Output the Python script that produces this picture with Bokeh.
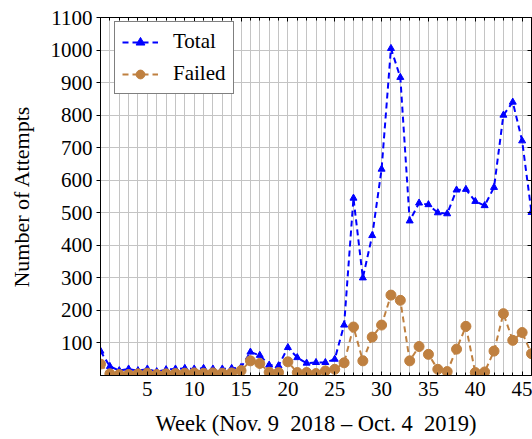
from bokeh.plotting import figure
from bokeh.models import FixedTicker, LinearAxis, Legend, LegendItem, Range1d
from bokeh.embed import file_html
from bokeh.resources import INLINE

# ---- data ----
weeks = list(range(47))
total = [75, 28, 15, 20, 15, 20, 12, 18, 20, 22, 20, 22, 20, 20, 22, 25,
         72, 62, 32, 30, 86, 55, 38, 40, 40, 50,
         155, 545, 300, 430, 634, 1005, 916, 475, 530, 525,
         500, 497, 570, 572, 535, 522, 578, 800, 840, 721, 501]
failed = [35, 5, 3, 3, 5, 7, 3, 5, 6, 7, 8, 7, 8, 7, 8, 15,
          45, 37, 10, 9, 42, 9, 9, 6, 14, 19,
          39, 149, 45, 118, 155, 247, 231, 45, 89, 65,
          19, 12, 81, 151, 9, 11, 75, 190, 108, 132, 67]
x_major = [5, 10, 15, 20, 25, 30, 35, 40, 45]
y_major = [100, 200, 300, 400, 500, 600, 700, 800, 900, 1000, 1100]
series_names = ["Total", "Failed"]
x_title = "Week (Nov. 9\u20022018 \u2013 Oct. 4\u20022019)"
y_title = "Number of Attempts"

FONT = "Liberation Serif"
FS = "21px"
BLUE = "#0000ff"
BROWN = "#bf8040"
GRID = "#c4c4c4"

p = figure(width=532, height=439,
           x_range=Range1d(0, 46), y_range=Range1d(0, 1100),
           output_backend="svg", toolbar_location=None,
           min_border_left=100, min_border_right=1,
           min_border_top=17, min_border_bottom=64)

p.outline_line_color = "black"
p.outline_line_width = 1
p.background_fill_color = "white"

xt = FixedTicker(ticks=x_major, minor_ticks=weeks)
yt = FixedTicker(ticks=y_major, minor_ticks=[])

p.xaxis.ticker = xt
p.yaxis.ticker = yt
p.xgrid.ticker = xt
p.ygrid.ticker = yt
p.xgrid.grid_line_color = GRID
p.xgrid.minor_grid_line_color = GRID
p.ygrid.grid_line_color = GRID
p.xgrid.grid_line_width = 1
p.ygrid.grid_line_width = 1

for ax in (p.xaxis, p.yaxis):
    ax.axis_line_color = "black"
    ax.major_tick_line_color = "black"
    ax.minor_tick_line_color = "black"
    ax.major_label_text_font = FONT
    ax.major_label_text_font_size = FS
    ax.major_label_text_color = "black"
    ax.axis_label_text_font = FONT
    ax.axis_label_text_font_style = "normal"
    ax.axis_label_text_color = "black"

p.xaxis.axis_label_text_font_size = "22.5px"
p.yaxis.axis_label_text_font_size = "22px"

p.xaxis.major_tick_in = 4
p.xaxis.major_tick_out = 0
p.xaxis.minor_tick_in = 3
p.xaxis.minor_tick_out = 0
p.xaxis.major_label_standoff = 6
p.xaxis.axis_label = x_title
p.xaxis.axis_label_standoff = 12

p.yaxis.major_tick_in = 0
p.yaxis.major_tick_out = 4
p.yaxis.minor_tick_in = 0
p.yaxis.minor_tick_out = 0
p.yaxis.major_label_standoff = 4
p.yaxis.axis_label = y_title
p.yaxis.axis_label_standoff = 14

# mirrored ticks (top and right), no labels
top = LinearAxis(ticker=xt,
                 major_label_overrides={t: "" for t in x_major},
                 major_label_text_font_size="1px",
                 major_tick_in=4, major_tick_out=0,
                 minor_tick_in=3, minor_tick_out=0,
                 major_label_standoff=0, axis_line_color="black")
right = LinearAxis(ticker=yt,
                   major_label_overrides={t: "" for t in y_major},
                   major_label_text_font_size="1px",
                   major_tick_in=4, major_tick_out=0,
                   minor_tick_in=0, minor_tick_out=0,
                   major_label_standoff=0, axis_line_color="black")
p.add_layout(top, "above")
p.add_layout(right, "right")

l1 = p.line(weeks, total, line_color=BLUE, line_width=2, line_dash="6 4")
s1 = p.scatter(weeks, total, marker="triangle", size=7,
               fill_color=BLUE, line_color=BLUE)
l2 = p.line(weeks, failed, line_color=BROWN, line_width=2, line_dash="6 4")
s2 = p.scatter(weeks, failed, marker="circle", size=10,
               fill_color=BROWN, line_color=BROWN)

legend = Legend(items=[LegendItem(label=series_names[0], renderers=[l1, s1]),
                       LegendItem(label=series_names[1], renderers=[l2, s2])],
                location=(14, 281))
legend.border_line_color = "black"
legend.border_line_width = 1
legend.background_fill_color = "white"
legend.background_fill_alpha = 1
legend.label_text_font = FONT
legend.label_text_font_size = FS
legend.label_text_color = "black"
legend.glyph_width = 36
legend.glyph_height = 22
legend.label_height = 22
legend.label_standoff = 15
legend.spacing = 7
legend.padding = 7
legend.margin = 0
p.add_layout(legend, "center")

open("out.html", "w").write(file_html(p, INLINE))
